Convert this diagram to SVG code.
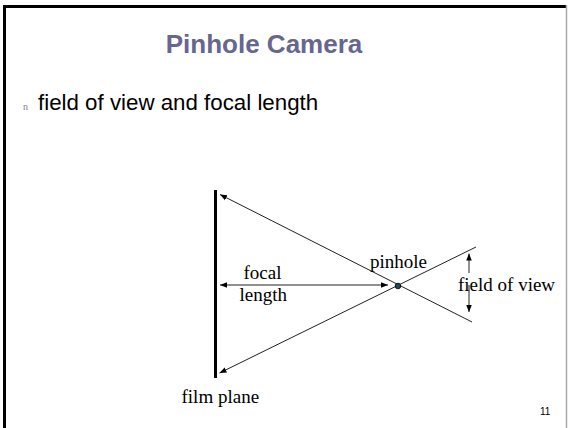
<svg xmlns="http://www.w3.org/2000/svg" width="568" height="428" viewBox="0 0 568 428">
<style>
.serif{font-family:"Liberation Serif","Times New Roman",serif;font-size:19px;fill:#000}
.ray{stroke:#222;stroke-width:1;fill:none}
</style>
<defs>
<marker id="ah" viewBox="0 0 10 10" refX="10" refY="5" markerWidth="7" markerHeight="7" markerUnits="userSpaceOnUse" orient="auto">
<path d="M0,1 L10,5 L0,9 z" fill="#000"/>
</marker>
</defs>
<rect width="568" height="428" fill="#fff"/>
<g id="frame">
<line x1="4.5" y1="5" x2="4.5" y2="428" stroke="#000" stroke-width="3"/>
<line x1="3" y1="6.5" x2="566" y2="6.5" stroke="#000" stroke-width="3"/>
<line x1="566.5" y1="5" x2="566.5" y2="428" stroke="#aaa" stroke-width="1.5"/>
</g>
<g id="title">
<text x="264" y="53" text-anchor="middle" font-family="Liberation Sans, Arial, sans-serif" font-size="26" font-weight="bold" fill="#666690">Pinhole Camera</text>
</g>
<g id="bullet">
<text x="23" y="110" font-family="Liberation Serif, serif" font-size="10" fill="#8080a0">n</text>
<text x="38" y="110" font-family="Liberation Sans, Arial, sans-serif" font-size="22.3" fill="#000">field of view and focal length</text>
</g>
<g id="film-plane">
<line x1="215.5" y1="190" x2="215.5" y2="378" stroke="#000" stroke-width="3"/>
<text class="serif" x="181.5" y="403">film plane</text>
</g>
<g id="connectors">
<line class="ray" x1="472" y1="322" x2="220" y2="194.5" marker-end="url(#ah)"/>
<line class="ray" x1="476" y1="247" x2="219.5" y2="373" marker-end="url(#ah)"/>
<line class="ray" x1="300" y1="285" x2="220" y2="285" marker-end="url(#ah)"/>
<line class="ray" x1="300" y1="285" x2="388" y2="285" marker-end="url(#ah)"/>
<line class="ray" x1="469" y1="273" x2="469" y2="253.5" marker-end="url(#ah)"/>
<line class="ray" x1="469" y1="285" x2="469" y2="312" marker-end="url(#ah)"/>
</g>
<g id="pinhole">
<circle cx="398" cy="286" r="2.8" fill="#1f4a55" stroke="#000" stroke-width="0.8"/>
<text class="serif" x="370" y="268">pinhole</text>
</g>
<g id="focal-length">
<text class="serif" x="243.5" y="279">focal</text>
<text class="serif" x="239.5" y="300.5">length</text>
</g>
<g id="field-of-view">
<text class="serif" x="458" y="290.5">field of view</text>
</g>
<g id="page-number">
<text x="540" y="415" font-family="Liberation Sans, Arial, sans-serif" font-size="10" fill="#000">11</text>
</g>
</svg>
